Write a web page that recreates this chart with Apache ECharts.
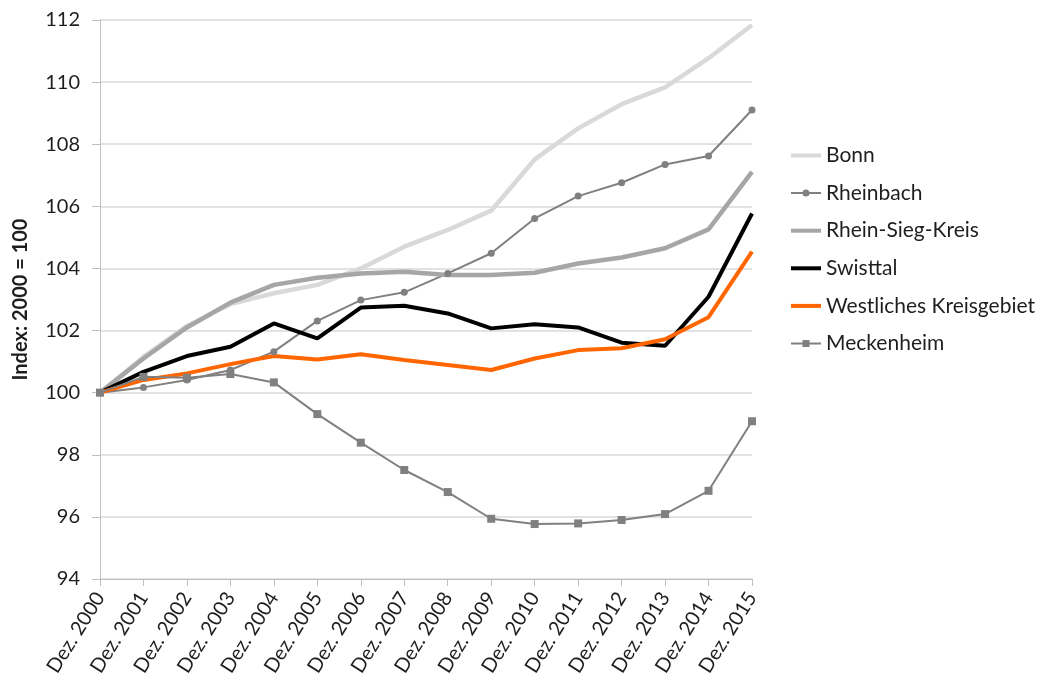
<!DOCTYPE html>
<html>
<head>
<meta charset="utf-8">
<script src="https://cdn.jsdelivr.net/npm/echarts@6/dist/echarts.min.js"></script>
<style>
  html, body { margin: 0; padding: 0; background: #fff; }
  #chart { width: 1038px; height: 687px; }
</style>
</head>
<body>
<div id="chart"></div>
<script>
// Einwohnerentwicklung, Index Dez. 2000 = 100
const years = ['Dez. 2000','Dez. 2001','Dez. 2002','Dez. 2003','Dez. 2004','Dez. 2005','Dez. 2006','Dez. 2007',
               'Dez. 2008','Dez. 2009','Dez. 2010','Dez. 2011','Dez. 2012','Dez. 2013','Dez. 2014','Dez. 2015'];

const bonn        = [100, 101.15, 102.15, 102.85, 103.2, 103.47, 104.0, 104.7, 105.24, 105.86, 107.51, 108.51, 109.29, 109.83, 110.77, 111.84];
const rheinbach   = [100, 100.17, 100.41, 100.73, 101.32, 102.31, 102.98, 103.23, 103.84, 104.49, 105.61, 106.33, 106.76, 107.35, 107.62, 109.10];
const rheinSieg   = [100, 101.1, 102.1, 102.9, 103.47, 103.7, 103.84, 103.89, 103.79, 103.79, 103.86, 104.16, 104.35, 104.65, 105.26, 107.11];
const swisttal    = [100, 100.67, 101.18, 101.48, 102.23, 101.75, 102.74, 102.80, 102.55, 102.07, 102.20, 102.10, 101.61, 101.51, 103.09, 105.77];
const westlich    = [100, 100.41, 100.62, 100.92, 101.18, 101.07, 101.24, 101.05, 100.89, 100.73, 101.10, 101.37, 101.43, 101.72, 102.43, 104.54];
const meckenheim  = [100, 100.51, 100.48, 100.6, 100.33, 99.31, 98.39, 97.51, 96.80, 95.94, 95.77, 95.79, 95.90, 96.09, 96.84, 99.08];

const yMin = 94, yMax = 112, yStep = 2;
const FONT = 'Lato, "Open Sans", sans-serif';
const TEXT = '#1e1e1e';

// legend icons: plain line strokes, or a thin line with a marker in the middle
const ICON_THICK = 'path://M0,0H30V4H0Z';
const ICON_CIRCLE = 'path://M0,2H30V4H0Z M11.5,3a3.5,3.5 0 1,1 7,0a3.5,3.5 0 1,1 -7,0Z';
const ICON_SQUARE = 'path://M0,2.5H30V4.5H0Z M11.5,0H18.5V7H11.5Z';

function lineSeries(name, data, color, width, symbol, symbolSize) {
  return {
    name, type: 'line', data,
    symbol: symbol || 'none',
    symbolSize: symbolSize || 0,
    showSymbol: !!symbol,
    lineStyle: { color, width },
    itemStyle: { color },
    emphasis: { disabled: true },
    animation: false
  };
}

const chart = echarts.init(document.getElementById('chart'));
chart.setOption({
  backgroundColor: '#fff',
  textStyle: { fontFamily: FONT },
  grid: { left: 100, right: 286, top: 20, bottom: 108, containLabel: false },
  legend: {
    orient: 'vertical',
    left: 786,
    top: 140,
    itemWidth: 30,
    itemHeight: 14,
    itemGap: 16.6,
    textStyle: { fontSize: 21, lineHeight: 20, color: TEXT, fontFamily: FONT },
    data: [
      { name: 'Bonn', icon: ICON_THICK },
      { name: 'Rheinbach', icon: ICON_CIRCLE },
      { name: 'Rhein-Sieg-Kreis', icon: ICON_THICK },
      { name: 'Swisttal', icon: ICON_THICK },
      { name: 'Westliches Kreisgebiet', icon: ICON_THICK },
      { name: 'Meckenheim', icon: ICON_SQUARE }
    ]
  },
  xAxis: {
    type: 'category',
    data: years,
    boundaryGap: false,
    axisLine: { show: true, lineStyle: { color: '#bfbfbf', width: 1 } },
    axisTick: { show: true, length: 7, lineStyle: { color: '#bfbfbf' } },
    axisLabel: { rotate: 58, fontSize: 20, color: TEXT, margin: 15, interval: 0 },
    splitLine: { show: false }
  },
  yAxis: {
    type: 'value',
    min: yMin, max: yMax, interval: yStep,
    name: 'Index: 2000 = 100',
    nameLocation: 'middle',
    nameRotate: 90,
    nameGap: 69,
    nameTextStyle: { fontSize: 20, fontWeight: 'bold', color: TEXT },
    axisLine: { show: true, lineStyle: { color: '#bfbfbf', width: 1 } },
    axisTick: { show: true, length: 8, lineStyle: { color: '#bfbfbf' } },
    axisLabel: { fontSize: 20, color: TEXT, margin: 20 },
    splitLine: { show: true, lineStyle: { color: '#d9d9d9', width: 1.5 } }
  },
  series: [
    lineSeries('Bonn', bonn, '#d9d9d9', 4.5),
    lineSeries('Rheinbach', rheinbach, '#808080', 2, 'circle', 7),
    lineSeries('Rhein-Sieg-Kreis', rheinSieg, '#a6a6a6', 4.5),
    lineSeries('Swisttal', swisttal, '#000000', 4),
    lineSeries('Westliches Kreisgebiet', westlich, '#ff6600', 4),
    lineSeries('Meckenheim', meckenheim, '#808080', 2, 'rect', 8)
  ]
});
</script>
</body>
</html>
